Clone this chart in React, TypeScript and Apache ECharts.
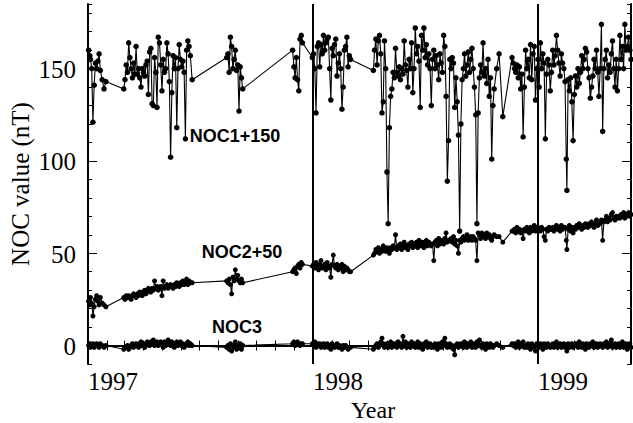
import React, { useEffect, useRef } from "react";
import * as echarts from "echarts";

// Days since 1997-01-01 at which the three NOC series were sampled
const days = [
  // Jan 1997
  1, 3, 4, 6, 8, 10, 12, 14, 16, 18, 20, 23, 26, 29,
  // Mar-Jun 1997
  58, 60, 62, 64, 66, 68, 70, 72, 74, 76,
  78, 80, 82, 84, 86, 88, 90, 92, 94, 96,
  98, 100, 102, 104, 106, 108, 110, 112, 114, 116,
  118, 120, 122, 124, 126, 128, 130, 132, 134, 136,
  138, 140, 142, 144, 146, 148, 150, 152, 154, 156,
  158, 160, 162, 164, 166, 169,
  // Aug-Sep 1997
  225, 227, 229, 231, 233, 235, 237, 239, 241, 243, 245, 247, 249, 251,
  // Nov-Dec 1997
  332, 334, 336, 338, 340, 342, 344, 346, 348,
  // Jan-Mar 1998
  364, 366, 368, 370, 372, 374, 376, 378, 380, 382,
  384, 386, 388, 390, 392, 394, 396, 398, 400, 402,
  404, 406, 408, 410, 412, 414, 416, 418, 420, 422,
  424, 426,
  // Apr 1998 - May 1999
  463, 465, 467, 469, 471, 473, 475, 477, 479, 481, 483, 485, 487, 489, 491, 493, 495,
  497, 499, 501, 503, 505, 507, 509, 511, 513, 515, 517, 519, 521, 523, 525, 527,
  529, 531, 533, 535, 537, 539, 541, 543, 545, 547, 549, 551, 553, 555, 557,
  559, 561, 563, 565, 567, 569, 571, 573, 575, 577, 579,
  581, 583, 585,
  587, 589, 591, 593, 595, 597, 599, 601, 603,
  605, 607, 609, 611, 613, 615, 617, 619, 621, 623,
  625, 627, 629, 631, 633,
  635, 637, 639, 641, 643, 645, 647, 649, 651, 653, 655, 657,
  659, 663, 667, 673, 688,
  690, 692, 694, 696, 698, 700, 702, 704, 706, 708,
  710, 712, 714, 716, 718, 720, 722, 724, 726, 728, 730,
  732, 734, 736, 738, 740, 742, 744, 746, 748, 750,
  752, 754, 756, 758, 760, 762, 764, 766, 768, 770, 772,
  774, 776, 777, 779, 781, 783, 785, 787, 789,
  791, 793, 795, 797, 799, 801, 803, 805, 807, 809,
  811, 813, 815, 817, 819, 821, 823, 825, 827, 829,
  831, 833, 835, 837,
  839, 841, 843, 845, 847, 849, 851, 853, 855, 857, 859,
  861, 863, 865, 867, 869, 871, 873, 875, 877, 879, 881,
];

// NOC1 + 150 (nT)
const noc1Plus150 = [
  160, 157, 155, 150, 121, 141, 153, 150, 154, 158, 149, 144, 139, 143,
  139, 144, 152, 148, 164, 156, 150, 145, 153, 147,
  162, 147, 150, 145, 140, 150, 148, 146, 152, 154,
  136, 159, 161, 131, 130, 156, 148, 129, 167, 164,
  152, 138, 155, 148, 150, 164, 158, 143, 102, 137,
  157, 150, 156, 118, 150, 163, 155, 151, 154, 148,
  112, 160, 165, 162, 157, 144,
  156, 158, 148, 167, 162, 150, 155, 160, 149, 152, 127, 151, 145, 139,
  160, 151, 145, 156, 144, 138, 166, 168, 164,
  156, 158, 150, 126, 162, 164, 151, 163, 158, 168,
  160, 164, 166, 167, 150, 133, 161, 157, 163, 166,
  146, 153, 158, 150, 128, 140, 160, 162, 167, 151,
  157, 155,
  149, 160, 166, 152, 165, 168, 158, 126, 132, 165, 150, 94, 66, 118, 135, 139, 148,
  145, 161, 148, 146, 151, 144, 150, 147, 165, 152, 149, 140, 155, 150, 164, 137,
  150, 172, 158, 162, 154, 129, 168, 160, 172, 156, 163, 152, 158, 150, 130,
  155, 160, 150, 157, 152, 144, 158, 153, 148, 168, 162,
  135, 89, 111,
  155, 150, 156, 153, 129, 145, 132, 114, 62,
  120, 144, 150, 158, 146, 152, 159, 148, 155, 161,
  150, 140, 125, 66, 126,
  145, 152, 148, 164, 146, 150, 142, 155, 135, 145, 101, 130,
  139, 150, 158, 124, 156,
  153, 150, 148, 152, 145, 151, 139, 147, 113, 140,
  160, 150, 155, 145, 163, 144, 158, 162, 133, 150, 155,
  140, 164, 150, 158, 153, 112, 147, 155, 152, 138,
  148, 160, 152, 157, 168, 160, 153, 146, 158, 153, 150,
  143, 101, 84, 144, 138, 145, 132, 111, 136,
  146, 140, 150, 142, 148, 157, 150, 155, 161, 159,
  150, 145, 134, 140, 146, 155, 150, 160, 148, 135,
  150, 174, 116, 150,
  155, 160, 145, 152, 148, 158, 165, 150, 140, 155, 138,
  150, 168, 155, 162, 150, 174, 160, 162, 167, 160, 155,
];

// NOC2 + 50 (nT)
const noc2Plus50 = [
  24, 22, 26, 23, 16, 21, 25, 27, 24, 22, 26, 23, 22, 21,
  26, 25, 27, 26, 27, 26, 25, 27, 28, 27,
  26, 28, 27, 29, 28, 27, 29, 30, 28, 29,
  31, 30, 29, 31, 30, 35, 31, 32, 30, 31,
  32, 27, 35, 31, 32, 33, 31, 32, 33, 32,
  31, 33, 32, 34, 33, 32, 34, 33, 35, 33,
  34, 36, 33, 35, 34, 34,
  35, 34, 36, 33, 28, 37, 35, 41, 36, 38, 35, 34, 36, 34,
  40, 41, 42, 39, 43, 44, 42, 45, 44,
  43, 44, 42, 45, 43, 41, 44, 46, 42, 43,
  44, 41, 45, 43, 42, 37, 44, 49, 43, 42,
  44, 41, 43, 42, 44, 40, 43, 41, 42, 41,
  40, 40,
  49, 50, 52, 51, 53, 50, 52, 51, 54, 52, 51, 53, 52, 50, 53, 52, 54,
  53, 60, 52, 54, 53, 55, 52, 54, 56, 53, 54, 52, 55, 54, 56, 53,
  55, 54, 56, 53, 57, 55, 54, 56, 53, 55, 57, 54, 56, 55, 54,
  55, 46, 56, 57, 54, 58, 55, 56, 57, 55, 58,
  61, 56, 57,
  57, 58, 56, 59, 55, 57, 54, 50, 57,
  56, 58, 59, 57, 58, 60, 57, 58, 59, 57,
  59, 58, 57, 46, 61,
  60, 58, 61, 59, 60, 58, 61, 59, 60, 58, 57, 59,
  60, 59, 59, 56, 62,
  62, 63, 61, 64, 62, 63, 61, 62, 58, 63,
  62, 64, 63, 61, 64, 62, 63, 65, 62, 63, 64,
  63, 62, 64, 63, 59, 57, 63, 62, 64, 63,
  63, 64, 62, 64, 65, 63, 64, 62, 65, 63, 64,
  64, 57, 52, 63, 65, 62, 64, 61, 64,
  63, 65, 64, 66, 64, 63, 65, 64, 66, 65,
  64, 66, 65, 67, 65, 64, 66, 68, 65, 66,
  66, 68, 57, 67,
  68, 70, 67, 69, 68, 71, 72, 69, 68, 70, 69,
  70, 69, 71, 70, 72, 69, 70, 71, 72, 70, 71,
];

// NOC3 (nT)
const noc3 = [
  0, 1, -1, 0, 1, -1, 0, 1, 0, -1, 1, 0, -1, 0,
  -2, -1, -1, 0, -2, -1, 0, 1, -1, 0,
  1, 0, -1, 1, 2, 0, 1, -1, 0, 2,
  1, 0, 2, 1, 3, 0, 1, 2, 0, 1,
  2, 1, -1, 2, 0, 1, 3, 1, 0, 2,
  1, -1, 1, 2, 0, 1, 2, 0, 1, -1,
  0, 1, 2, 0, 1, 0,
  -1, 0, -2, 1, -3, 0, -1, 2, -2, 0, -1, 1, -2, 0,
  1, 2, 0, 1, 2, 1, 0, 1, 1,
  1, 0, 2, -1, 1, 0, 1, -1, 0, 1,
  -1, 0, 1, -1, 0, -2, 1, 0, -1, 0,
  1, -1, 0, -1, -2, 0, -1, 0, -1, -2,
  -1, -1,
  -2, -1, 0, 1, -1, 0, 2, 4, 1, -1, 0, 1, -1, 0, 2, -1, 1,
  0, 1, -1, 2, 0, 1, -1, 5, 0, 2, -1, 1, 0, -1, 2, 0,
  1, -1, 0, 2, -1, 1, 0, -2, 1, 0, 2, -1, 0, 1, -1,
  0, -1, 1, 0, -2, 1, 0, -1, 2, 0, 4,
  1, -1, 0,
  1, -1, 0, -2, -5, 0, 1, -1, 0,
  1, 0, -1, 2, 0, -1, 1, 0, 2, -1,
  0, 1, -1, 2, 0,
  3, 0, -1, 1, 0, -2, 1, 0, -1, 1, 0, -1,
  0, 1, 0, -1, 1,
  0, 1, -1, 0, 2, -1, 1, 0, 2, -1,
  0, -1, 1, 0, -2, 1, 0, -1, -3, 1, 0,
  -1, 1, 0, -2, 1, 0, -1, 1, 0, -1,
  0, 1, -1, 0, 2, -1, 0, 1, -1, 0, 1,
  -1, 0, -3, 1, -1, 0, 1, -1, 0,
  1, 0, -1, 2, 0, -1, 1, 0, -2, 1,
  0, -1, 1, 0, 2, -1, 0, 1, -1, 0,
  1, 0, -1, 1,
  0, 2, -1, 1, 0, 3, -1, 0, 1, -1, 0,
  1, -1, 0, 2, -1, 0, 1, -2, 0, 1, -1,
];

// Month starts (days since 1997-01-01) for the ticks
const monthTicks = [
  0, 31, 59, 90, 120, 151, 181, 212, 243, 273, 304, 334,
  365, 396, 424, 455, 485, 516, 546, 577, 608, 638, 669, 699,
  730, 761, 789, 820, 850, 881,
];
const yearTicks = [0, 365, 730];
const yearLabels = ["1997", "1998", "1999"];
const yMajorTicks = [0, 50, 100, 150];
const yearLines = [365, 730];
const seriesLabels = ["NOC1+150", "NOC2+50", "NOC3"];

export default function App() {
  const ref = useRef<HTMLDivElement>(null);

  useEffect(() => {
    if (!ref.current) return;
    const chart = echarts.init(ref.current, null, { renderer: "svg" });
    const serif = '"Liberation Serif"';
    const sans = '"Liberation Sans"';
    const black = "#000";

    const mk = (vals: number[]) => days.map((d, i) => [d, vals[i]]);

    const baseY = {
      type: "value",
      min: -10,
      max: 185,
      splitLine: { show: false },
    };

    const option: any = {
      animation: false,
      backgroundColor: "#fff",
      grid: { left: 81, right: 2, top: 4, bottom: 59 },
      xAxis: [
        {
          type: "value",
          position: "bottom",
          min: 0,
          max: 881,
          splitLine: { show: false },
          axisLine: { show: true, lineStyle: { color: black, width: 2 } },
          axisTick: {
            show: true,
            inside: true,
            length: 5,
            customValues: monthTicks,
            lineStyle: { color: black, width: 1 },
          },
          axisLabel: { show: false },
        },
        {
          type: "value",
          position: "top",
          min: 0,
          max: 881,
          splitLine: { show: false },
          axisLine: { show: true, lineStyle: { color: black, width: 2 } },
          axisTick: {
            show: true,
            inside: true,
            length: 5,
            customValues: monthTicks,
            lineStyle: { color: black, width: 1 },
          },
          axisLabel: { show: false },
        },
      ],
      yAxis: [
        {
          ...baseY,
          position: "left",
          interval: 10,
          axisLine: { show: true, lineStyle: { color: black, width: 2 } },
          axisTick: { show: true, inside: true, length: 4, lineStyle: { color: black, width: 1 } },
          axisLabel: { show: false },
          name: "NOC value (nT)",
          nameLocation: "middle",
          nameGap: 55,
          nameTextStyle: { color: black, fontFamily: "Liberation Serif", fontSize: 25 },
        },
        {
          ...baseY,
          position: "left",
          axisLine: { show: false },
          axisTick: {
            show: true,
            inside: true,
            length: 9,
            customValues: yMajorTicks,
            lineStyle: { color: black, width: 1 },
          },
          axisLabel: { show: false },
        },
        {
          ...baseY,
          position: "right",
          interval: 10,
          axisLine: { show: true, lineStyle: { color: black, width: 2 } },
          axisTick: { show: true, inside: true, length: 4, lineStyle: { color: black, width: 1 } },
          axisLabel: { show: false },
        },
        {
          ...baseY,
          position: "right",
          axisLine: { show: false },
          axisTick: {
            show: true,
            inside: true,
            length: 9,
            customValues: yMajorTicks,
            lineStyle: { color: black, width: 1 },
          },
          axisLabel: { show: false },
        },
      ],
      series: [
        {
          name: seriesLabels[0],
          type: "line",
          data: mk(noc1Plus150),
          symbol: "circle",
          symbolSize: 5.5,
          itemStyle: { color: black },
          lineStyle: { color: black, width: 1.1 },
          markLine: {
            silent: true,
            symbol: ["none", "none"],
            label: { show: false },
            lineStyle: { color: black, width: 2, type: "solid" },
            data: yearLines.map((d) => ({ xAxis: d })),
          },
        },
        {
          name: seriesLabels[1],
          type: "line",
          data: mk(noc2Plus50),
          symbol: "circle",
          symbolSize: 5,
          itemStyle: { color: black },
          lineStyle: { color: black, width: 1.1 },
        },
        {
          name: seriesLabels[2],
          type: "line",
          data: mk(noc3),
          symbol: "circle",
          symbolSize: 5,
          itemStyle: { color: black },
          lineStyle: { color: black, width: 1.1 },
        },
      ],
    };

    chart.setOption(option);

    // Tick labels placed through the axes' own scales
    const labelGraphics: any[] = [];
    yMajorTicks.forEach((v) => {
      const py = chart.convertToPixel({ yAxisIndex: 0 }, v) as number;
      labelGraphics.push({
        type: "text",
        x: 76,
        y: py + 1,
        style: {
          text: String(v),
          font: `25px ${serif}`,
          fill: black,
          textAlign: "right",
          textVerticalAlign: "middle",
        },
      });
    });
    yearTicks.forEach((d, i) => {
      const px = chart.convertToPixel({ xAxisIndex: 0 }, d) as number;
      labelGraphics.push({
        type: "text",
        x: px,
        y: 369,
        style: {
          text: yearLabels[i],
          font: `25px ${serif}`,
          fill: black,
          textAlign: "left",
          textVerticalAlign: "top",
        },
      });
    });

    const textGraphics = [
      { t: seriesLabels[0], x: 235, y: 136 },
      { t: seriesLabels[1], x: 242, y: 252 },
      { t: seriesLabels[2], x: 237, y: 327 },
    ].map((g) => ({
      type: "text",
      x: g.x,
      y: g.y,
      style: {
        text: g.t,
        font: `bold 18px ${sans}`,
        fill: black,
        textAlign: "center",
        textVerticalAlign: "middle",
      },
    }));

    chart.setOption({
      graphic: [
        ...labelGraphics,
        ...textGraphics,
        {
          type: "text",
          x: 373,
          y: 410,
          style: {
            text: "Year",
            font: `24px ${serif}`,
            fill: black,
            textAlign: "center",
            textVerticalAlign: "middle",
          },
        },
      ],
    });

    return () => chart.dispose();
  }, []);

  return (
    <div
      ref={ref}
      style={{ position: "absolute", left: 0, top: 0, width: 633, height: 423, background: "#fff" }}
    />
  );
}
